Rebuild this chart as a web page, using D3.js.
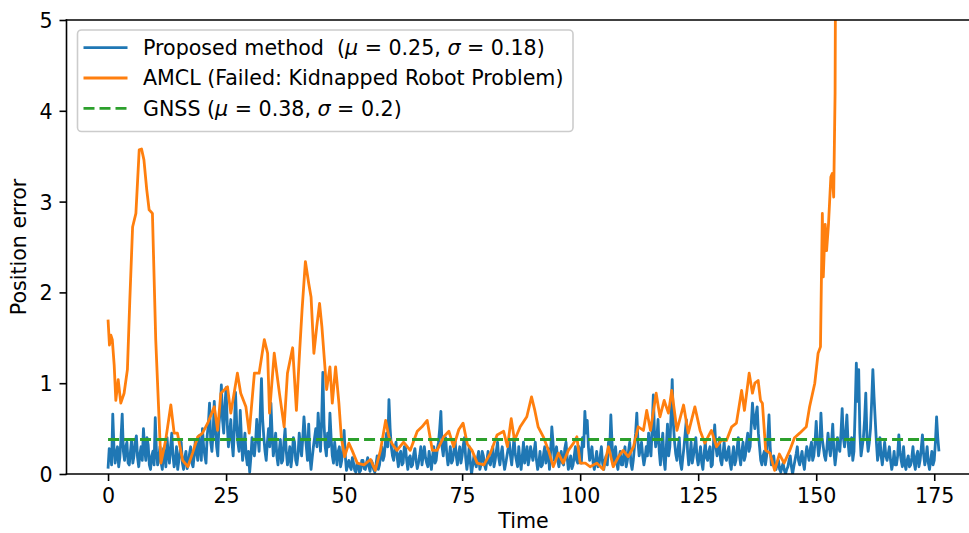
<!DOCTYPE html>
<html>
<head>
<meta charset="utf-8">
<script src="https://cdn.jsdelivr.net/npm/d3@7"></script>
<style>
    body { margin: 0; background: #fff; }
    svg { display: block; font-family: 'DejaVu Sans', sans-serif; }
</style>
</head>
<body>
<svg width="969" height="533"></svg>
<script>
// proposed method, one sample every 0.25 s starting at t = 0 (20 values = 5 s per row)
const proposedStep = 0.25;
const proposedError = [
    0.06, 0.28, 0.25, 0.10, 0.66, 0.30, 0.12, 0.22, 0.30, 0.08, 0.18, 0.40, 0.66, 0.25, 0.15, 0.30, 0.35, 0.12, 0.10, 0.25,
    0.38, 0.12, 0.20, 0.35, 0.42, 0.18, 0.08, 0.22, 0.30, 0.15, 0.50, 0.28, 0.15, 0.40, 0.32, 0.10, 0.05, 0.20, 0.25, 0.10,
    0.62, 0.25, 0.10, 0.18, 0.30, 0.12, 0.05, 0.28, 0.20, 0.08, 0.40, 0.22, 0.12, 0.30, 0.45, 0.20, 0.08, 0.15, 0.30, 0.05,
    0.15, 0.25, 0.35, 0.12, 0.05, 0.18, 0.25, 0.06, 0.10, 0.22, 0.30, 0.12, 0.08, 0.20, 0.38, 0.25, 0.15, 0.42, 0.30, 0.15,
    0.50, 0.30, 0.20, 0.12, 0.42, 0.55, 0.78, 0.35, 0.25, 0.45, 0.80, 0.50, 0.30, 0.20, 0.55, 0.70, 0.98, 0.60, 0.45, 0.75,
    0.95, 0.55, 0.30, 0.45, 0.60, 0.35, 0.20, 0.50, 0.90, 0.55, 0.35, 0.25, 0.70, 0.40, 0.15, 0.30, 0.45, 0.20, 0.10, 0.25,
    0.02, 0.18, 0.40, 0.25, 0.20, 0.35, 0.60, 0.40, 0.25, 0.70, 1.05, 0.60, 0.40, 0.25, 0.15, 0.35, 0.50, 0.30, 0.78, 0.45,
    0.20, 0.30, 0.45, 0.20, 0.10, 0.25, 0.38, 0.12, 0.15, 0.35, 0.50, 0.25, 0.10, 0.18, 0.30, 0.08, 0.20, 0.40, 0.35, 0.15,
    0.10, 0.22, 0.45, 0.30, 0.20, 0.40, 0.63, 0.45, 0.30, 0.15, 0.55, 0.20, 0.05, 0.18, 0.30, 0.40, 0.50, 0.30, 0.67, 0.45,
    0.25, 0.60, 1.12, 0.55, 0.30, 0.20, 0.45, 0.30, 0.67, 0.40, 0.20, 0.12, 0.35, 0.22, 0.10, 0.25, 0.30, 0.08, 0.15, 0.30,
    0.48, 0.20, 0.04, 0.10, 0.15, 0.08, 0.05, 0.18, 0.12, 0.04, 0.02, 0.12, 0.10, 0.02, 0.04, 0.15, 0.15, 0.06, 0.05, 0.12,
    0.18, 0.08, 0.03, 0.15, 0.12, 0.05, 0.02, 0.10, 0.20, 0.05, 0.10, 0.22, 0.30, 0.15, 0.20, 0.35, 0.45, 0.30, 0.82, 0.50,
    0.30, 0.20, 0.15, 0.28, 0.35, 0.18, 0.08, 0.22, 0.25, 0.10, 0.12, 0.30, 0.30, 0.15, 0.05, 0.18, 0.20, 0.08, 0.10, 0.22,
    0.28, 0.15, 0.06, 0.12, 0.20, 0.30, 0.10, 0.20, 0.30, 0.18, 0.12, 0.08, 0.25, 0.15, 0.05, 0.20, 0.30, 0.12, 0.15, 0.28,
    0.35, 0.50, 0.69, 0.30, 0.20, 0.35, 0.40, 0.22, 0.10, 0.18, 0.30, 0.12, 0.15, 0.25, 0.38, 0.20, 0.10, 0.22, 0.30, 0.12,
    0.20, 0.32, 0.40, 0.18, 0.05, 0.15, 0.30, 0.12, 0.00, 0.10, 0.20, 0.12, 0.08, 0.18, 0.25, 0.05, 0.10, 0.25, 0.20, 0.10,
    0.05, 0.15, 0.25, 0.12, 0.10, 0.20, 0.30, 0.08, 0.15, 0.25, 0.35, 0.18, 0.10, 0.22, 0.30, 0.15, 0.05, 0.12, 0.20, 0.28,
    0.35, 0.20, 0.10, 0.25, 0.40, 0.22, 0.15, 0.08, 0.30, 0.15, 0.05, 0.20, 0.35, 0.12, 0.20, 0.30, 0.10, 0.18, 0.30, 0.22,
    0.15, 0.25, 0.35, 0.15, 0.05, 0.12, 0.25, 0.08, 0.10, 0.22, 0.30, 0.12, 0.20, 0.28, 0.05, 0.25, 0.52, 0.35, 0.15, 0.22,
    0.30, 0.15, 0.08, 0.18, 0.25, 0.12, 0.10, 0.28, 0.35, 0.18, 0.05, 0.12, 0.20, 0.06, 0.10, 0.20, 0.30, 0.15, 0.12, 0.30,
    0.25, 0.12, 0.40, 0.30, 0.69, 0.45, 0.59, 0.30, 0.15, 0.22, 0.30, 0.12, 0.05, 0.15, 0.25, 0.08, 0.10, 0.20, 0.30, 0.12,
    0.05, 0.15, 0.20, 0.10, 0.35, 0.25, 0.65, 0.35, 0.10, 0.20, 0.30, 0.12, 0.05, 0.18, 0.25, 0.10, 0.10, 0.22, 0.30, 0.08,
    0.15, 0.25, 0.35, 0.12, 0.05, 0.15, 0.30, 0.45, 0.67, 0.35, 0.20, 0.28, 0.35, 0.20, 0.10, 0.18, 0.30, 0.20, 0.45, 0.30,
    0.20, 0.50, 0.87, 0.45, 0.30, 0.40, 0.60, 0.25, 0.10, 0.30, 0.45, 0.15, 0.05, 0.30, 0.55, 0.20, 0.30, 0.65, 1.04, 0.55,
    0.35, 0.22, 0.15, 0.28, 0.40, 0.12, 0.05, 0.18, 0.30, 0.45, 0.60, 0.25, 0.10, 0.20, 0.35, 0.12, 0.20, 0.30, 0.40, 0.18,
    0.10, 0.20, 0.30, 0.12, 0.05, 0.22, 0.35, 0.18, 0.15, 0.25, 0.30, 0.08, 0.10, 0.35, 0.54, 0.30, 0.20, 0.25, 0.40, 0.15,
    0.10, 0.22, 0.35, 0.18, 0.15, 0.25, 0.30, 0.12, 0.05, 0.20, 0.30, 0.10, 0.15, 0.28, 0.40, 0.20, 0.10, 0.25, 0.35, 0.15,
    0.20, 0.35, 0.45, 0.25, 0.30, 0.55, 0.78, 0.60, 0.50, 0.65, 0.74, 0.45, 0.30, 0.15, 0.10, 0.20, 0.25, 0.10, 0.20, 0.40,
    0.65, 0.30, 0.10, 0.15, 0.20, 0.08, 0.05, 0.12, 0.15, 0.05, 0.02, 0.08, 0.12, 0.04, 0.00, 0.05, 0.08, 0.15, 0.20, 0.08,
    0.00, 0.08, 0.15, 0.22, 0.30, 0.15, 0.10, 0.18, 0.25, 0.12, 0.05, 0.20, 0.30, 0.22, 0.15, 0.28, 0.35, 0.15, 0.20, 0.35,
    0.58, 0.35, 0.20, 0.30, 0.67, 0.40, 0.30, 0.20, 0.15, 0.28, 0.45, 0.30, 0.20, 0.35, 0.55, 0.25, 0.10, 0.22, 0.40, 0.30,
    0.25, 0.45, 0.72, 0.40, 0.30, 0.45, 0.65, 0.35, 0.20, 0.30, 0.40, 0.15, 0.25, 0.70, 1.22, 0.80, 1.15, 0.45, 0.20, 0.30,
    0.40, 0.60, 0.89, 0.40, 0.25, 0.35, 0.50, 0.80, 1.15, 0.85, 0.60, 0.35, 0.15, 0.25, 0.40, 0.20, 0.10, 0.22, 0.35, 0.20,
    0.15, 0.22, 0.30, 0.15, 0.05, 0.12, 0.25, 0.10, 0.10, 0.20, 0.43, 0.25, 0.15, 0.08, 0.30, 0.12, 0.05, 0.15, 0.20, 0.08,
    0.10, 0.18, 0.30, 0.12, 0.05, 0.20, 0.25, 0.08, 0.15, 0.28, 0.43, 0.22, 0.10, 0.18, 0.30, 0.12, 0.05, 0.15, 0.25, 0.10,
    0.15, 0.35, 0.63, 0.40, 0.25
];

const amclTime = [
    0, 0.3, 0.6, 0.9, 1.3, 1.65, 2.15, 2.7, 3.4, 4.1, 4.6, 5.2, 5.9, 6.6, 7.1, 7.6, 8.2, 8.7, 9.4,
    10.1, 11.2, 12.2, 13.3, 14.0, 14.7, 15.8, 16.9, 17.9, 19.0, 20.0, 21.1, 22.5, 23.2, 23.9,
    25.3, 26.0, 27.4, 28.1, 29.2, 29.9, 31.0, 32.0, 33.1, 33.8, 34.2, 35.2, 36.3, 37.3, 38.0,
    39.1, 39.9, 40.6, 41.1, 41.8, 42.5, 43.0, 43.6, 44.2, 44.8, 45.3, 46.3, 47.0, 47.5, 48.2,
    48.9, 49.4, 50.1, 51.0, 51.7, 52.8, 54.2, 55.6, 56.6, 57.7, 58.8, 59.5, 60.2, 61.2, 62.6,
    64.0, 65.5, 66.5, 67.6, 68.7, 69.7, 71.1, 72.2, 73.2, 74.3, 75.2, 76.1, 77.1, 78.2, 79.6,
    81.0, 82.4, 83.8, 84.6, 85.4, 86.1, 87.3, 88.7, 89.7, 90.4, 91.1, 92.2, 93.3, 94.3, 95.4,
    96.4, 97.5, 98.6, 99.3, 100.0, 101.1, 102.1, 103.5, 104.9, 106.0, 107.0, 108.1, 109.1,
    110.2, 111.3, 112.3, 113.4, 114.1, 114.9, 116.1, 116.9, 117.8, 118.7, 119.4, 120.5, 121.9,
    122.9, 124.3, 125.4, 126.4, 127.8, 128.9, 129.9, 131.0, 132.1, 133.1, 134.2, 134.8, 135.8,
    136.5, 137.0, 137.7, 138.2, 138.6, 139.3, 140.2, 141.2, 142.2, 143.2, 144.4, 145.4, 146.5,
    147.9, 148.6, 149.7, 150.4, 150.9, 151.3, 151.5, 151.9, 152.2, 152.6, 153.1, 153.4, 153.7,
    154.0, 154.2
];
const amclError = [
    1.70, 1.42, 1.53, 1.48, 1.20, 0.81, 1.04, 0.78, 0.89, 1.15, 1.90, 2.72, 2.87, 3.57, 3.58, 3.46, 3.13, 2.91, 2.87,
    1.48, 0.12, 0.37, 0.76, 0.45, 0.45, 0.15, 0.08, 0.23, 0.41, 0.45, 0.56, 0.74, 0.48, 0.89,
    0.96, 0.67, 1.11, 0.89, 0.74, 0.45, 1.11, 1.11, 1.48, 1.33, 0.67, 1.33, 0.89, 0.52, 1.11,
    1.39, 0.70, 1.37, 1.81, 2.34, 2.10, 1.95, 1.33, 1.62, 1.88, 1.62, 0.93, 1.18, 0.78, 1.18,
    0.78, 0.41, 0.19, 0.34, 0.26, 0.12, 0.10, 0.16, 0.04, 0.26, 0.59, 0.41, 0.33, 0.26, 0.35,
    0.26, 0.47, 0.52, 0.59, 0.26, 0.26, 0.41, 0.47, 0.30, 0.49, 0.56, 0.33, 0.26, 0.12, 0.10,
    0.23, 0.43, 0.47, 0.30, 0.61, 0.37, 0.52, 0.63, 0.85, 0.70, 0.52, 0.41, 0.26, 0.08, 0.23,
    0.12, 0.26, 0.34, 0.41, 0.12, 0.12, 0.08, 0.12, 0.05, 0.30, 0.08, 0.19, 0.26,
    0.19, 0.30, 0.52, 0.48, 0.70, 0.48, 0.89, 0.63, 0.81, 0.67, 0.92, 0.48, 0.76,
    0.45, 0.74, 0.48, 0.34, 0.48, 0.30, 0.37, 0.37, 0.52, 0.56, 0.92, 0.70, 1.11,
    0.89, 1.00, 1.03, 0.81, 0.78, 0.26, 0.23, 0.04, 0.22, 0.12, 0.26, 0.40, 0.45,
    0.52, 0.74, 1.00, 1.33, 1.40, 2.87, 2.17, 2.75, 2.46, 2.75, 3.27, 3.31, 3.05,
    4.20, 7.00
];

// GNSS mean error, drawn flat over the whole run
const gnssTime = [0, 176];
const gnssError = [0.38, 0.38];

const xTicks = [0, 25, 50, 75, 100, 125, 150, 175];
const yTicks = [0, 1, 2, 3, 4, 5];

const legendItems = [
    { color: '#1f77b4', dash: null, parts: ['Proposed method\u00a0\u00a0(', 'μ', ' = 0.25, ', 'σ', ' = 0.18)'] },
    { color: '#ff7f0e', dash: null, parts: ['AMCL (Failed: Kidnapped Robot Problem)'] },
    { color: '#2ca02c', dash: '11,5', parts: ['GNSS (', 'μ', ' = 0.38, ', 'σ', ' = 0.2)'] }
];

const proposed = proposedError.map(function (v, i) { return { t: i * proposedStep, v: v }; });
const amcl = amclError.map(function (v, i) { return { t: amclTime[i], v: v }; });
const gnss = gnssError.map(function (v, i) { return { t: gnssTime[i], v: v }; });

const plotLeft = 66.5, plotRight = 980.5, plotTop = 20, plotBottom = 474;
const fontSize = 20.6;

const svg = d3.select('svg');

// matplotlib style 5% margin on x
const tMax = d3.max(proposed, function (d) { return d.t; });
const pad = tMax * 0.05;
const x = d3.scaleLinear().domain([-pad, tMax + pad]).range([plotLeft, plotRight]);
const y = d3.scaleLinear().domain([0, 5]).range([plotBottom, plotTop]);

svg.append('defs').append('clipPath')
    .attr('id', 'plotClip')
    .append('rect')
    .attr('x', plotLeft)
    .attr('y', plotTop)
    .attr('width', plotRight - plotLeft)
    .attr('height', plotBottom - plotTop);

const line = d3.line()
    .x(function (d) { return x(d.t); })
    .y(function (d) { return y(d.v); });

const plot = svg.append('g').attr('clip-path', 'url(#plotClip)');

plot.append('path')
    .datum(proposed)
    .attr('d', line)
    .attr('fill', 'none')
    .attr('stroke', '#1f77b4')
    .attr('stroke-width', 2.8)
    .attr('stroke-linejoin', 'round');

plot.append('path')
    .datum(amcl)
    .attr('d', line)
    .attr('fill', 'none')
    .attr('stroke', '#ff7f0e')
    .attr('stroke-width', 2.8)
    .attr('stroke-linejoin', 'round');

plot.append('path')
    .datum(gnss)
    .attr('d', line)
    .attr('fill', 'none')
    .attr('stroke', '#2ca02c')
    .attr('stroke-width', 2.8)
    .attr('stroke-dasharray', '11,5');

// axes
const xAxis = d3.axisBottom(x).tickValues(xTicks).tickSize(7).tickPadding(6).tickFormat(d3.format('d'));
const yAxis = d3.axisLeft(y).tickValues(yTicks).tickSize(7).tickPadding(7).tickFormat(d3.format('d'));

const gx = svg.append('g').attr('transform', 'translate(0,' + plotBottom + ')').call(xAxis);
const gy = svg.append('g').attr('transform', 'translate(' + plotLeft + ',0)').call(yAxis);

[gx, gy].forEach(function (g) {
    g.select('.domain').remove();
    g.selectAll('.tick line').attr('stroke', '#000').attr('stroke-width', 1.6);
    g.selectAll('.tick text')
        .attr('fill', '#000')
        .style('font-size', fontSize + 'px')
        .style('font-family', "'DejaVu Sans', sans-serif");
});
gx.selectAll('.tick text').attr('dy', '0.76em');
gy.selectAll('.tick text').attr('dy', '0.36em');

// spines (right one falls just past the picture edge)
svg.append('line').attr('x1', plotLeft).attr('x2', plotLeft).attr('y1', plotTop).attr('y2', plotBottom)
    .attr('stroke', '#000').attr('stroke-width', 1.6).attr('stroke-linecap', 'square');
svg.append('line').attr('x1', plotLeft).attr('x2', plotRight).attr('y1', plotBottom).attr('y2', plotBottom)
    .attr('stroke', '#000').attr('stroke-width', 1.6).attr('stroke-linecap', 'square');
svg.append('line').attr('x1', plotLeft).attr('x2', plotRight).attr('y1', plotTop).attr('y2', plotTop)
    .attr('stroke', '#000').attr('stroke-width', 1.6).attr('stroke-linecap', 'square');
svg.append('line').attr('x1', plotRight).attr('x2', plotRight).attr('y1', plotTop).attr('y2', plotBottom)
    .attr('stroke', '#000').attr('stroke-width', 1.6);

svg.append('text')
    .attr('x', (plotLeft + plotRight) / 2)
    .attr('y', 528)
    .attr('text-anchor', 'middle')
    .style('font-size', fontSize + 'px')
    .text('Time');

svg.append('text')
    .attr('transform', 'translate(26,' + ((plotTop + plotBottom) / 2) + ') rotate(-90)')
    .attr('text-anchor', 'middle')
    .style('font-size', fontSize + 'px')
    .text('Position error');

// legend
const legend = svg.append('g');
legend.append('rect')
    .attr('x', 77.5)
    .attr('y', 30)
    .attr('width', 495.5)
    .attr('height', 101.5)
    .attr('rx', 4)
    .attr('fill', '#fff')
    .attr('fill-opacity', 0.8)
    .attr('stroke', '#cccccc')
    .attr('stroke-width', 1.6);

legendItems.forEach(function (item, i) {
    const ly = 47.7 + i * 30.3;
    legend.append('line')
        .attr('x1', 83.5)
        .attr('x2', 127.5)
        .attr('y1', ly)
        .attr('y2', ly)
        .attr('stroke', item.color)
        .attr('stroke-width', 2.8)
        .attr('stroke-dasharray', item.dash);
    const t = legend.append('text')
        .attr('x', 143)
        .attr('y', ly)
        .attr('dy', '0.36em')
        .style('font-size', fontSize + 'px');
    item.parts.forEach(function (p) {
        t.append('tspan')
            .style('font-style', (p === 'μ' || p === 'σ') ? 'italic' : 'normal')
            .text(p);
    });
});
</script>
</body>
</html>
